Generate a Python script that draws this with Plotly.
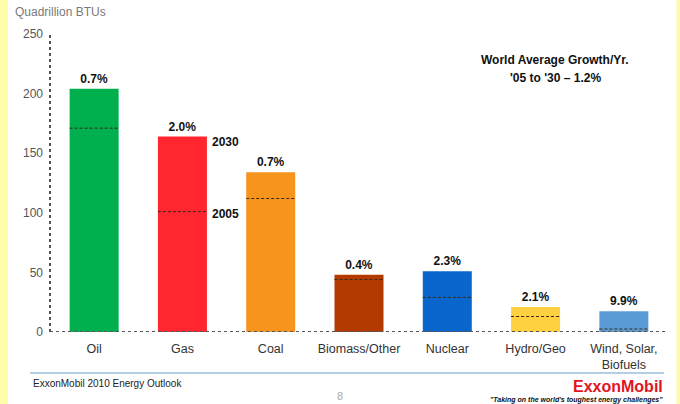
import plotly.graph_objects as go

categories = ["Oil", "Gas", "Coal", "Biomass/Other", "Nuclear", "Hydro/Geo", "Wind, Solar,<br>Biofuels"]
values_2030 = [204, 164, 134, 48, 51, 21, 17.5]
values_2005 = [171, 101, 112, 44, 29, 13, 2.5]
growth_labels = ["0.7%", "2.0%", "0.7%", "0.4%", "2.3%", "2.1%", "9.9%"]
bar_colors = ["#00B04F", "#FF2630", "#F7941D", "#B33B00", "#0A66CC", "#FFD040", "#5B9BD5"]
y_ticks = [0, 50, 100, 150, 200, 250]

W, H = 680, 404
L, R, T, B = 50, 12, 34, 72
PW, PH = W - L - R, H - T - B

def px(x):
    return (x - L) / PW

def py(y):
    return (H - B - y) / PH

xs = list(range(len(categories)))
bw = 0.555

fig = go.Figure()
fig.add_trace(go.Bar(
    x=xs, y=values_2030, width=bw,
    marker=dict(color=bar_colors, line=dict(width=0)),
    text=growth_labels, textposition="outside",
    textfont=dict(family="Liberation Sans, Arial", size=12, color="#111111"),
    texttemplate="<b>%{text}</b>", cliponaxis=False,
    hoverinfo="skip", showlegend=False,
))

# 2005 dashed markers inside bars
dx, dy = [], []
for i, v in zip(xs, values_2005):
    dx += [i - bw / 2, i + bw / 2, None]
    dy += [v, v, None]
fig.add_trace(go.Scatter(
    x=dx, y=dy, mode="lines",
    line=dict(color="#3a2a1a", width=1, dash="3px,2px"),
    hoverinfo="skip", showlegend=False,
))

gi = categories.index("Gas")
fig.add_annotation(x=gi + bw / 2, y=values_2030[gi], text="<b>2030</b>", showarrow=False,
                   xanchor="left", yanchor="middle", xshift=3, yshift=-5,
                   font=dict(family="Liberation Sans, Arial", size=12, color="#111111"))
fig.add_annotation(x=gi + bw / 2, y=values_2005[gi], text="<b>2005</b>", showarrow=False,
                   xanchor="left", yanchor="middle", xshift=3, yshift=-2,
                   font=dict(family="Liberation Sans, Arial", size=12, color="#111111"))

shapes = [
    dict(type="line", xref="paper", yref="paper", x0=0, x1=0, y0=0, y1=1,
         line=dict(color="#555555", width=2, dash="dot")),
    dict(type="line", xref="paper", yref="y", x0=0, x1=1, y0=0, y1=0,
         line=dict(color="#555555", width=2, dash="dot")),
    # yellow side strips
    dict(type="rect", xref="paper", yref="paper", x0=px(0), x1=px(8), y0=py(H), y1=py(0),
         fillcolor="#FEFCA8", line=dict(width=0), layer="below"),
    dict(type="rect", xref="paper", yref="paper", x0=px(676.5), x1=px(W), y0=py(H), y1=py(0),
         fillcolor="#FEFCA8", line=dict(width=0), layer="below"),
    # footer rule
    dict(type="line", xref="paper", yref="paper", x0=px(30), x1=px(664), y0=py(373), y1=py(373),
         line=dict(color="#9BBFDC", width=1.5)),
]

annotations_px = [
    dict(text="Quadrillion BTUs", x=13, y=12, xanchor="left", yanchor="middle",
         font=dict(size=12, color="#7a7a7a")),
    dict(text="<b>World Average Growth/Yr.</b>", x=555, y=60, xanchor="center", yanchor="middle",
         font=dict(size=12, color="#111111")),
    dict(text="<b>'05 to '30 – 1.2%</b>", x=555, y=78, xanchor="center", yanchor="middle",
         font=dict(size=12, color="#111111")),
    dict(text="ExxonMobil 2010 Energy Outlook", x=31, y=383, xanchor="left", yanchor="middle",
         font=dict(size=10, color="#222222")),
    dict(text="8", x=340, y=396, xanchor="center", yanchor="middle",
         font=dict(size=11, color="#aaaaaa")),
    dict(text="<b>ExxonMobil</b>", x=665, y=386, xanchor="right", yanchor="middle",
         font=dict(size=16, color="#E2141F", family="Liberation Sans, Arial")),
    dict(text="<b><i>\"Taking on the world's toughest energy challenges\"</i></b>", x=665, y=399.5,
         xanchor="right", yanchor="middle", font=dict(size=7, color="#111111")),
]
for a in annotations_px:
    fig.add_annotation(xref="paper", yref="paper", x=px(a["x"]), y=py(a["y"]), text=a["text"],
                       showarrow=False, xanchor=a["xanchor"], yanchor=a["yanchor"], font=a["font"])

fig.update_layout(
    width=W, height=H, margin=dict(l=L, r=R, t=T, b=B),
    paper_bgcolor="white", plot_bgcolor="white",
    font=dict(family="Liberation Sans, Arial", size=12, color="#333333"),
    shapes=shapes, bargap=0.45,
    xaxis=dict(range=[-0.5, len(categories) - 0.5], tickvals=xs, ticktext=categories,
               showgrid=False, zeroline=False, showline=False, ticks="",
               ticklabelstandoff=7,
               tickfont=dict(size=12.5, color="#333333")),
    yaxis=dict(range=[0, 250], tickvals=y_ticks, showgrid=False, zeroline=False,
               showline=False, ticks="", ticklabelstandoff=6,
               tickfont=dict(size=12, color="#555555")),
)

fig.write_html("out.html", config={"displayModeBar": False},
               post_script="document.body.style.margin='0';document.body.style.overflow='hidden';")
